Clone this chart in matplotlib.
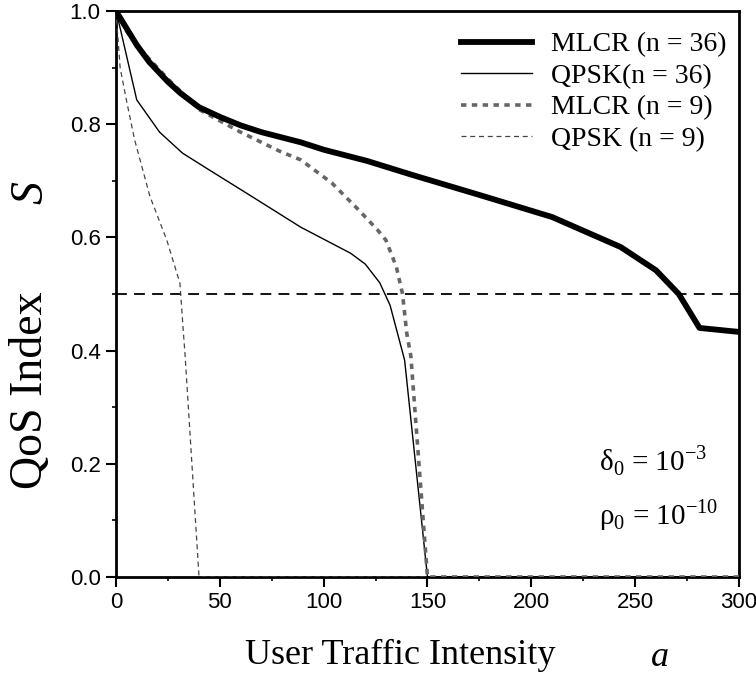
import matplotlib
matplotlib.use("Agg")
import matplotlib.pyplot as plt
from matplotlib.ticker import MultipleLocator

# values
a_mlcr36 = [0, 5, 10, 16, 25, 31, 40, 50, 60, 70, 89, 100, 121, 143, 175, 210, 243, 260, 271, 281, 300]
s_mlcr36 = [1.0, 0.97, 0.94, 0.91, 0.875, 0.855, 0.83, 0.813, 0.798, 0.786, 0.768, 0.755, 0.735,
            0.71, 0.675, 0.636, 0.583, 0.542, 0.50, 0.44, 0.433]

a_qpsk36 = [0, 2, 10, 21, 32, 45, 66, 89, 113, 120, 127, 132, 139, 150, 300]
s_qpsk36 = [1.0, 0.97, 0.843, 0.786, 0.749, 0.719, 0.671, 0.618, 0.572, 0.553, 0.52, 0.48, 0.383, 0.0, 0.0]

a_mlcr9 = [0, 5, 12, 25, 40, 60, 79, 89, 104, 117, 126, 130, 135, 138, 140, 142, 150, 300]
s_mlcr9 = [1.0, 0.965, 0.931, 0.88, 0.826, 0.786, 0.752, 0.737, 0.696, 0.648, 0.613, 0.595, 0.548,
           0.50, 0.431, 0.39, 0.0, 0.0]

a_qpsk9 = [0, 2, 5, 9, 16.4, 24.5, 30.8, 32.5, 33.2, 40, 150]
s_qpsk9 = [1.0, 0.90, 0.843, 0.772, 0.672, 0.595, 0.519, 0.43, 0.396, 0.0, 0.0]

labels = ["MLCR (n = 36)", "QPSK(n = 36)", "MLCR (n = 9)", "QPSK (n = 9)"]
threshold = 0.5

serif = ["Liberation Serif", "DejaVu Serif"]
sans = ["Liberation Sans", "DejaVu Sans"]

fig = plt.figure(figsize=(7.56, 6.8), dpi=100)
ax = fig.add_axes([0.1534, 0.1515, 0.8241, 0.8323])

ax.plot(a_mlcr36, s_mlcr36, color="black", lw=4.2, label=labels[0], zorder=4)
ax.plot(a_qpsk36, s_qpsk36, color="black", lw=1.0, label=labels[1], zorder=3)
ax.plot(a_mlcr9, s_mlcr9, color="#666666", lw=2.6, ls=(0, (1.5, 1.5)), label=labels[2], zorder=3)
ax.plot(a_qpsk9, s_qpsk9, color="#444444", lw=0.9, ls=(0, (4, 3)), label=labels[3], zorder=3)
ax.axhline(threshold, color="black", lw=1.3, ls=(0, (6, 4)), zorder=2)

ax.set_xlim(0, 300)
ax.set_ylim(0, 1.0)
ax.xaxis.set_major_locator(MultipleLocator(50))
ax.xaxis.set_minor_locator(MultipleLocator(25))
ax.yaxis.set_major_locator(MultipleLocator(0.2))
ax.yaxis.set_minor_locator(MultipleLocator(0.1))
ax.yaxis.set_major_formatter(plt.FuncFormatter(lambda v, p: "%.1f" % v))
ax.tick_params(which="major", direction="out", length=7, width=1.5, labelsize=16, pad=4)
ax.tick_params(which="minor", direction="out", length=3, width=1.2)
for lab in ax.get_xticklabels() + ax.get_yticklabels():
    lab.set_family(sans)

for side in ["left", "bottom", "top", "right"]:
    ax.spines[side].set_linewidth(2.0)

leg = ax.legend(loc="upper right", bbox_to_anchor=(1.0, 0.985), frameon=False,
                prop={"family": serif, "size": 20},
                handlelength=2.55, handletextpad=0.7, labelspacing=0.22,
                borderaxespad=0.15, borderpad=0.3)

ax.text(0.775, 0.205, "δ$_{\\mathregular{0}}$ = 10$^{\\mathregular{-3}}$", transform=ax.transAxes,
        fontsize=21, family=serif, ha="left", va="center")
ax.text(0.775, 0.11, "ρ$_{\\mathregular{0}}$ = 10$^{\\mathregular{-10}}$", transform=ax.transAxes,
        fontsize=21, family=serif, ha="left", va="center")

fig.text(400 / 756, 1 - 655 / 680, "User Traffic Intensity", fontsize=26, family=serif,
         ha="center", va="center")
fig.text(660 / 756, 1 - 657 / 680, "a", fontsize=26, family=serif, style="italic",
         ha="center", va="center")
fig.text(31 / 756, 1 - 390 / 680, "QoS Index", fontsize=33, family=serif,
         rotation=90, ha="center", va="center")
fig.text(31 / 756, 1 - 192 / 680, "S", fontsize=33, family=serif, style="italic",
         rotation=90, ha="center", va="center")

fig.savefig("out.png", dpi=100)
